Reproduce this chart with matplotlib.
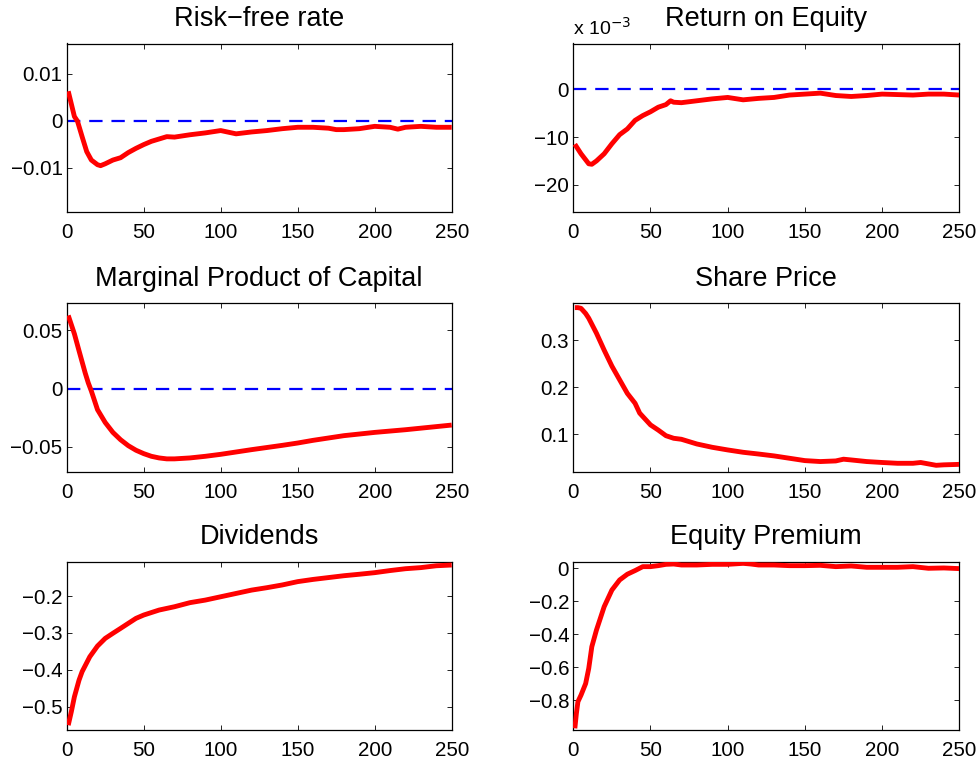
import matplotlib
matplotlib.use("Agg")
import matplotlib.pyplot as plt
import numpy as np

plt.rcParams['font.family'] = ['Liberation Sans', 'DejaVu Sans']

# ---------------- data ----------------
titles = ["Risk\u2212free rate", "Return on Equity", "Marginal Product of Capital",
          "Share Price", "Dividends", "Equity Premium"]

rf_x = [1, 5, 7, 10, 13, 16, 20, 22, 25, 30, 35, 40, 45, 50, 55, 60, 65, 70, 80, 90, 100,
        110, 120, 130, 140, 150, 160, 170, 175, 180, 190, 200, 210, 215, 220, 230, 240, 250]
rf_y = [0.0063, 0.0009, -0.0001, -0.0034, -0.0066, -0.0084, -0.0094, -0.0096, -0.0092,
        -0.0084, -0.0079, -0.0068, -0.0059, -0.0051, -0.0044, -0.0039, -0.0034, -0.0035,
        -0.0030, -0.0026, -0.0021, -0.0028, -0.0024, -0.0021, -0.0017, -0.0014, -0.0014,
        -0.0016, -0.0019, -0.0019, -0.0017, -0.0012, -0.0014, -0.0018, -0.0014, -0.0012,
        -0.0014, -0.0014]

roe_x = [1, 5, 10, 12, 15, 20, 25, 30, 35, 40, 45, 50, 55, 60, 63, 65, 70, 80, 90, 100,
         110, 120, 130, 140, 150, 160, 170, 180, 190, 200, 210, 220, 230, 240, 250]
roe_y = [-11.5, -13.5, -15.6, -15.7, -15.0, -13.5, -11.4, -9.5, -8.3, -6.5, -5.5, -4.7,
         -3.75, -3.2, -2.4, -2.7, -2.8, -2.4, -2.0, -1.7, -2.2, -1.9, -1.7, -1.2, -1.0,
         -0.8, -1.3, -1.5, -1.3, -1.0, -1.1, -1.2, -1.0, -1.0, -1.2]  # x 10^-3

mpk_x = [1, 5, 8, 10, 12, 14, 16, 20, 25, 30, 35, 40, 45, 50, 55, 60, 65, 70, 80, 90, 100,
         120, 140, 150, 160, 180, 200, 220, 250]
mpk_y = [0.0628, 0.047, 0.0325, 0.023, 0.0135, 0.005, -0.002, -0.018, -0.029, -0.0375,
         -0.0438, -0.0489, -0.0528, -0.0557, -0.058, -0.0594, -0.0602, -0.0602, -0.0594,
         -0.058, -0.0563, -0.0523, -0.0486, -0.0466, -0.0443, -0.0403, -0.0375, -0.0352,
         -0.0312]

sp_x = [1, 3, 5, 8, 10, 15, 20, 25, 30, 35, 40, 43, 50, 55, 60, 65, 70, 75, 80, 90, 100,
        110, 120, 130, 140, 150, 160, 170, 175, 180, 190, 200, 210, 220, 225, 230, 235,
        240, 250]
sp_y = [0.3695, 0.3695, 0.368, 0.357, 0.347, 0.315, 0.279, 0.245, 0.216, 0.187, 0.166,
        0.145, 0.120, 0.109, 0.097, 0.0915, 0.0894, 0.0844, 0.0794, 0.0723, 0.0667,
        0.0617, 0.058, 0.054, 0.049, 0.044, 0.042, 0.0433, 0.047, 0.0454, 0.042, 0.040,
        0.0383, 0.0383, 0.040, 0.037, 0.034, 0.035, 0.036]

div_x = [1, 3, 5, 8, 10, 15, 20, 25, 30, 35, 40, 45, 50, 60, 70, 80, 90, 100, 110, 120,
         130, 140, 150, 160, 170, 180, 190, 200, 210, 220, 230, 240, 250]
div_y = [-0.55, -0.5135, -0.473, -0.428, -0.405, -0.3645, -0.3355, -0.3148, -0.301,
         -0.2876, -0.274, -0.2605, -0.2515, -0.238, -0.229, -0.218, -0.211, -0.202,
         -0.193, -0.184, -0.1774, -0.170, -0.161, -0.155, -0.150, -0.145, -0.141,
         -0.1367, -0.131, -0.126, -0.123, -0.118, -0.116]

ep_x = [1, 2, 3, 5, 8, 10, 12, 15, 20, 25, 30, 35, 40, 45, 50, 55, 60, 65, 70, 80, 90,
        100, 110, 115, 120, 130, 140, 150, 160, 170, 180, 190, 200, 210, 220, 230, 240, 250]
ep_y = [-0.972, -0.881, -0.81, -0.77, -0.70, -0.608, -0.476, -0.375, -0.233, -0.132,
        -0.071, -0.036, -0.014, 0.010, 0.010, 0.016, 0.024, 0.026, 0.020, 0.020, 0.024,
        0.024, 0.030, 0.026, 0.020, 0.020, 0.016, 0.016, 0.018, 0.010, 0.014, 0.006,
        0.006, 0.006, 0.010, 0.0, 0.002, -0.002]

series_x = [rf_x, roe_x, mpk_x, sp_x, div_x, ep_x]
series_y = [rf_y, roe_y, mpk_y, sp_y, div_y, ep_y]
show_zero = [True, True, True, False, False, False]

ylims = [(-0.0195, 0.0165), (-25.7, 9.6), (-0.0712, 0.0732),
         (0.0204, 0.3787), (-0.563, -0.107), (-0.982, 0.040)]
yticks = [[-0.01, 0, 0.01], [-20, -10, 0], [-0.05, 0, 0.05],
          [0.1, 0.2, 0.3], [-0.5, -0.4, -0.3, -0.2], [-0.8, -0.6, -0.4, -0.2, 0]]
yticklabels = [["\u22120.01", "0", "0.01"], ["\u221220", "\u221210", "0"],
               ["\u22120.05", "0", "0.05"], ["0.1", "0.2", "0.3"],
               ["\u22120.5", "\u22120.4", "\u22120.3", "\u22120.2"],
               ["\u22120.8", "\u22120.6", "\u22120.4", "\u22120.2", "0"]]
xticks = [0, 50, 100, 150, 200, 250]

# ---------------- layout ----------------
W, H = 979, 766
fig = plt.figure(figsize=(W / 100, H / 100), dpi=100)

col_px = [(66.7, 451.7), (573.3, 959.3)]
row_px = [(43.5, 212.0), (303.3, 471.7), (561.7, 730.0)]

for i in range(6):
    r, c = divmod(i, 2)
    x0, x1 = col_px[c]
    y0, y1 = row_px[r]
    ax = fig.add_axes([x0 / W, 1 - y1 / H, (x1 - x0) / W, (y1 - y0) / H])
    ax.plot(series_x[i], series_y[i], color='#ff0000', lw=3.5, solid_capstyle='butt',
            zorder=3)
    if show_zero[i]:
        ax.plot([0, 250], [0, 0], color='#0000ff', lw=1.6, dashes=[6, 4], zorder=2)
    ax.set_xlim(0, 250)
    ax.set_ylim(*ylims[i])
    ax.set_xticks(xticks)
    ax.set_xticklabels([str(t) for t in xticks])
    ax.set_yticks(yticks[i])
    ax.set_yticklabels(yticklabels[i])
    ax.tick_params(direction='in', length=3.5, width=0.6, top=True, right=True,
                   labelsize=14.8, colors='black')
    ax.tick_params(axis='x', pad=8)
    ax.tick_params(axis='y', pad=3)
    for sp in ax.spines.values():
        sp.set_linewidth(0.9)
    ax.set_title(titles[i], fontsize=19.5, pad=12.5)
    if i == 1:
        ax.text(0, 1.025, "x 10$^{-3}$", transform=ax.transAxes, fontsize=14,
                ha='left', va='bottom')

fig.savefig("out.png", dpi=100)
